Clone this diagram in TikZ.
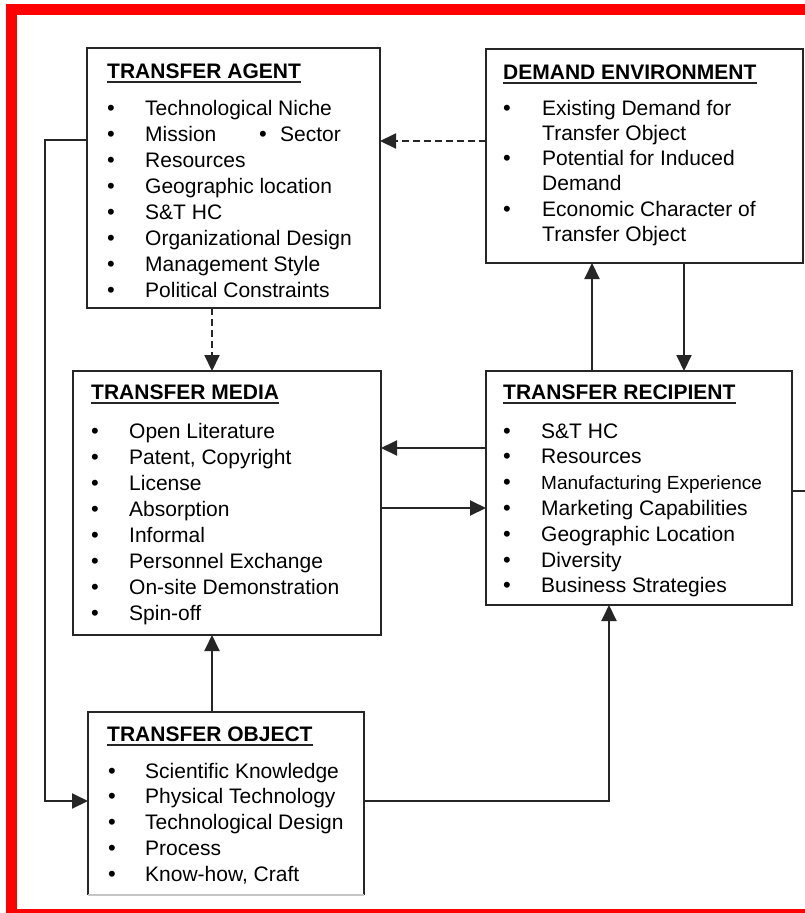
\documentclass[tikz,border=0pt]{standalone}
\usepackage{fontspec}
\setmainfont{Liberation Sans}
\usetikzlibrary{arrows.meta,calc}

\begin{document}
\begin{tikzpicture}[x=1pt,y=-1pt,
  box/.style={draw=black!85,line width=2pt,anchor=north west,inner sep=0pt,outer sep=0pt},
  ttl/.style={font=\fontsize{21}{25}\selectfont\bfseries,inner sep=0pt,anchor=base west},
  uline/.style={line width=1.8pt,draw=black!85},
  itm/.style={font=\fontsize{21}{25}\selectfont,inner sep=0pt,anchor=base west},
  bul/.style={font=\fontsize{22}{25}\selectfont,inner sep=0pt,anchor=base},
  link/.style={line width=2pt,draw=black!85},
  dashlink/.style={dash pattern=on 7pt off 4pt},
  tip/.style={-{Triangle[length=16pt,width=15pt]}}]

\useasboundingbox (0,0) rectangle (805,913);
\clip (0,0) rectangle (805,913);
\fill[white] (0,0) rectangle (805,913);

% outer red frame
\draw[red,line width=11.5pt] (11.5,9.5) rectangle (840,915);

% boxes
\node[box,minimum width=293pt,minimum height=260pt] (agent)  at (87,48)  {};
\node[box,minimum width=317pt,minimum height=214pt] (demand) at (486,49) {};
\node[box,minimum width=308pt,minimum height=264pt] (media)  at (73,371) {};
\node[box,minimum width=306pt,minimum height=234pt] (recip)  at (486,371) {};
\node[box,draw=none,minimum width=276pt,minimum height=183pt] (object) at (88,712) {};
\draw[box] (object.south west) |- (object.north east) -- (object.south east);
\draw[gray!45,line width=1.4pt] (object.south west) -- (object.south east);

% titles
\node[ttl] (agent-t)  at (107,78)  {TRANSFER AGENT};
\node[ttl] (demand-t) at (503,79)  {DEMAND ENVIRONMENT};
\node[ttl] (media-t)  at (91,399)  {TRANSFER MEDIA};
\node[ttl] (recip-t)  at (503,399) {TRANSFER RECIPIENT};
\node[ttl] (object-t) at (107,741) {TRANSFER OBJECT};
\foreach \n in {agent-t,demand-t,media-t,recip-t,object-t}
  \draw[uline] ([yshift=-4pt]\n.base west) -- ([yshift=-4pt]\n.base east);

% transfer agent items
\foreach \t [count=\i] in {Technological Niche,Mission,Resources,Geographic location,S\&T HC,Organizational Design,Management Style,Political Constraints}{
  \node[bul] (agent-b\i) at (111,{115+26*(\i-1)}) {•};
  \node[itm] (agent-\i) at (145,{115+26*(\i-1)}) {\t};
}
\node[bul] (agent-sb) at (263,141) {•};
\node[itm] (agent-s) at (280,141) {Sector};

% demand environment items
\foreach \t [count=\i] in {Existing Demand for,Transfer Object,Potential for Induced,Demand,Economic Character of,Transfer Object}{
  \node[itm] (demand-\i) at (542,{115+25.3*(\i-1)}) {\t};
}
\foreach \i in {1,3,5}
  \node[bul] (demand-b\i) at (507,{115+25.3*(\i-1)}) {•};

% transfer media items
\foreach \t [count=\i] in {Open Literature,{Patent, Copyright},License,Absorption,Informal,Personnel Exchange,On-site Demonstration,Spin-off}{
  \node[bul] (media-b\i) at (95,{438+26.1*(\i-1)}) {•};
  \node[itm] (media-\i) at (129,{438+26.1*(\i-1)}) {\t};
}

% transfer recipient items
\foreach \t [count=\i] in {S\&T HC,Resources,{\fontsize{19}{22}\selectfont Manufacturing Experience},Marketing Capabilities,Geographic Location,Diversity,Business Strategies}{
  \node[bul] (recip-b\i) at (507,{438+25.8*(\i-1)}) {•};
  \node[itm] (recip-\i) at (541,{438+25.8*(\i-1)}) {\t};
}

% transfer object items
\foreach \t [count=\i] in {Scientific Knowledge,Physical Technology,Technological Design,Process,{Know-how, Craft}}{
  \node[bul] (object-b\i) at (112,{778+25.8*(\i-1)}) {•};
  \node[itm] (object-\i) at (145,{778+25.8*(\i-1)}) {\t};
}

% connectors
\draw[link,dashlink,tip] (demand.west |- 0,141) -- (agent.east |- 0,141);
\draw[link,dashlink,tip] (agent.south -| 212,0) -- (media.north -| 212,0);
\draw[link,tip] (recip.west |- 0,448) -- (media.east |- 0,448);
\draw[link,tip] (media.east |- 0,508) -- (recip.west |- 0,508);
\draw[link,tip] (recip.north -| 592,0) -- (demand.south -| 592,0);
\draw[link,tip] (demand.south -| 684,0) -- (recip.north -| 684,0);
\draw[link,tip] (object.north -| 212,0) -- (media.south -| 212,0);
\draw[link,tip] (object.east |- 0,801) -| (recip.south -| 609,0);
\coordinate (loop) at (45,140);
\draw[link,tip] (agent.west |- loop) -- (loop) |- (object.west |- 0,801);
\coordinate (out) at (806,491);
\draw[link] (recip.east |- out) -- (out);

\end{tikzpicture}
\end{document}
